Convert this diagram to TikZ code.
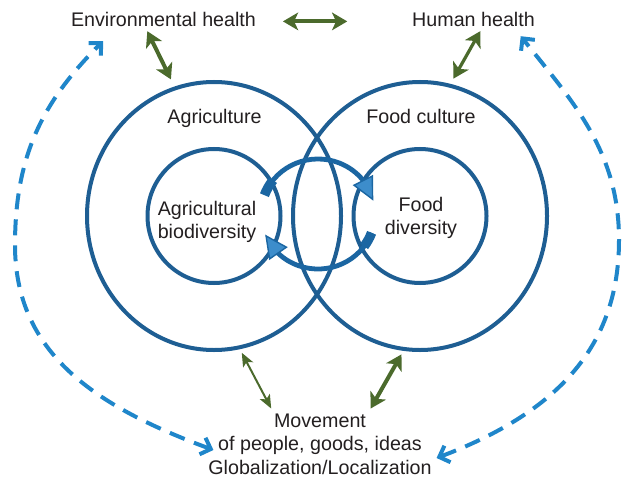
\documentclass[tikz,border=0pt]{standalone}
\usepackage{fontspec}
\setmainfont{Liberation Sans}
\usetikzlibrary{arrows.meta,bending,shapes.geometric}
\definecolor{ringcolor}{HTML}{1E5E93}
\definecolor{cyclecolor}{HTML}{1B66A2}
\definecolor{cyclefill}{HTML}{3D8DCB}
\definecolor{dashcolor}{HTML}{1F86CA}
\definecolor{greencolor}{HTML}{4B6A2C}
\definecolor{labelgray}{HTML}{231F20}
\def \px {0.25mm}
\def \ringy {216}
\def \cyclerx {14.25mm}
\def \cyclery {13.75mm}
\tikzset{
txt/.style={font=\fontsize{14}{16.8}\selectfont,text=labelgray,align=center},
outerring/.style={ellipse,draw=ringcolor,line width=1mm,minimum width=254*\px,minimum height=268*\px,inner sep=0pt},
innerring/.style={ellipse,draw=ringcolor,line width=1mm,minimum width=133*\px,minimum height=134*\px,inner sep=0pt},
greenlink/.style={draw=greencolor,line width=1mm,<->,>={Stealth[length=3.8mm,width=4.4mm,inset=1mm]}},
dashlink/.style={draw=dashcolor,line width=1mm,dash pattern=on 4mm off 2.5mm,<->,>={Straight Barb[length=2.2mm,width=4.4mm]}},
cyclearrow/.style={draw=cyclecolor,line width=1.2mm,-{Triangle[length=5.8mm,width=5.6mm,fill=cyclefill,line width=0.35mm]}},
cycletail/.style={draw=cyclecolor,line width=2.4mm}
}

\begin{document}
\begin{tikzpicture}[x=\px,y=-\px]
\useasboundingbox (0,0) rectangle (626,501);
\foreach \ringname/\cx in {agri/214,food/420}
{
% Draw the outer and the inner ring
\node[outerring] (\ringname) at (\cx,\ringy) {};
\node[innerring] (\ringname inner) at (\cx,\ringy) {};
}
% Draw the labels
\node[txt] (envh) at (163.5,19) {Environmental health};
\node[txt] (humh) at (473.5,19) {Human health};
\node[txt] (agrilabel) at (214.5,118) {Agriculture};
\node[txt] (foodlabel) at (421,116) {Food culture};
\node[txt] (agribio) at (207,222) {Agricultural\\biodiversity};
\node[txt] (fooddiv) at (421,218) {Food\\diversity};
\node[txt] (move) at (320,444) {Movement\\of people, goods, ideas\\Globalization/Localization};
% Draw the cycle in the middle
\coordinate (cyc) at (318,214);
\draw[cycletail] ([shift={(160:14.25mm and 13.75mm)}]cyc) arc[start angle=160,end angle=142,x radius=\cyclerx,y radius=\cyclery];
\draw[cyclearrow] ([shift={(158:14.25mm and 13.75mm)}]cyc) arc[start angle=158,end angle=14,x radius=\cyclerx,y radius=\cyclery];
\draw[cycletail] ([shift={(-20:14.25mm and 13.75mm)}]cyc) arc[start angle=-20,end angle=-36,x radius=\cyclerx,y radius=\cyclery];
\draw[cyclearrow] ([shift={(-20:14.25mm and 13.75mm)}]cyc) arc[start angle=-20,end angle=-158,x radius=\cyclerx,y radius=\cyclery];
% Draw the green links
\draw[greenlink,shorten <=5.5mm,shorten >=15mm] ([yshift=-0.6mm]envh.east) -- ([yshift=-0.6mm]humh.west);
\draw[greenlink,shorten >=2mm] (envh.217) -- (agri.107);
\draw[greenlink,line width=0.8mm,shorten >=1.5mm] (humh.-61) -- (food.77);
\draw[greenlink,line width=0.5mm,>={Stealth[length=3.4mm,width=2.8mm,inset=0.8mm]},shorten <=1mm] (agri.-79) -- (move.144);
\draw[greenlink,shorten <=1mm] (food.-97) -- (move.35);
% Draw the dashed loops round the rings
\draw[dashlink] ([shift={(10,6)}]move.west) .. controls (98,408) and (15,355) .. (15,245) .. controls (15,155) and (43,100) .. ([shift={(37,10)}]envh.south west);
\draw[dashlink] ([shift={(0,14)}]move.east) .. controls (553,415) and (619,350) .. (619,240) .. controls (619,150) and (572,101) .. ([shift={(-19,5)}]humh.south east);
\end{tikzpicture}
\end{document}
